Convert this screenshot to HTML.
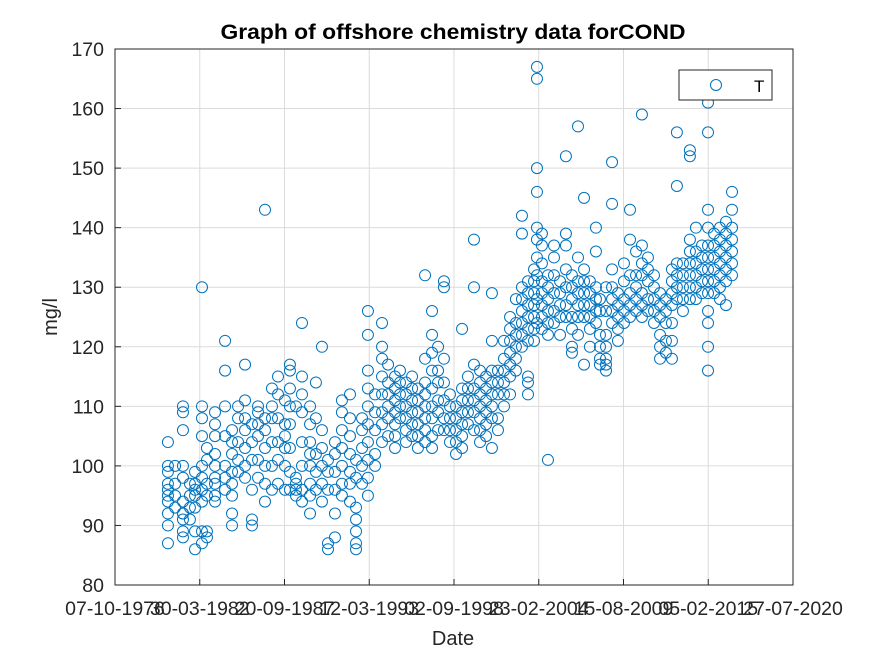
<!DOCTYPE html>
<html><head><meta charset="utf-8"><style>
body{margin:0;background:#fff;}
svg text{font-family:"Liberation Sans",Arial,sans-serif;}
</style></head><body>
<svg id="chart" width="875" height="656" xmlns="http://www.w3.org/2000/svg">
<rect x="0" y="0" width="875" height="656" fill="#fff"/>
<g id="grid"></g>
<g id="marks"></g>
<rect x="115" y="49" width="678" height="536" fill="none" stroke="#262626" stroke-width="1"/>
<g id="axes"></g>
<text x="453" y="39" text-anchor="middle" font-size="21.5" font-weight="bold" fill="#000" textLength="465" lengthAdjust="spacingAndGlyphs">Graph of offshore chemistry data forCOND</text>
<text transform="translate(57,317) rotate(-90)" text-anchor="middle" font-size="20" fill="#262626">mg/l</text>
<text x="453" y="645" text-anchor="middle" font-size="20" fill="#262626">Date</text>
<g>
<rect x="679" y="70" width="93" height="30" fill="#fff" stroke="#262626" stroke-width="1"/>
<circle cx="716" cy="85" r="5.5" fill="none" stroke="#0072BD" stroke-width="1"/>
<text x="754" y="92" font-size="17" fill="#000">T</text>
</g>
</svg>
<script>
const dates = [1980.19,1980.65,1981.16,1981.61,1981.94,1982.39,1982.71,1983.23,1983.88,1984.33,1984.72,1985.17,1985.62,1986.01,1986.46,1986.91,1987.30,1987.75,1988.07,1988.46,1988.85,1989.37,1989.75,1990.14,1990.53,1990.98,1991.43,1991.95,1992.34,1992.73,1993.11,1993.57,1994.02,1994.41,1994.86,1995.18,1995.57,1995.96,1996.34,1996.80,1997.25,1997.64,1998.02,1998.41,1998.80,1999.19,1999.57,1999.96,2000.35,2000.74,2001.12,2001.51,2001.90,2002.29,2002.67,2003.06,2003.45,2003.84,2004.03,2004.35,2004.74,2005.13,2005.52,2005.90,2006.29,2006.68,2007.07,2007.45,2007.84,2008.10,2008.49,2008.88,2009.26,2009.65,2010.04,2010.43,2010.81,2011.20,2011.59,2011.98,2012.36,2012.75,2013.07,2013.46,2013.91,2014.30,2014.69,2015.08,2015.47,2015.85,2016.24,2016.63];
const values = [
[99,97,96,92,90,87,104,95,100,94],[95,93,97,100],[110,109,106,100,98,94,92,91,89,88,92],[91,93,95,97],[96,99,97,95,93,89,86],
[130,110,108,105,100,98,96,94,89,87],[103,101,97,95,89,88],[109,107,105,102,100,97,95,98,94],[121,116,110,105,100,98,96],[106,104,102,99,97,95,92,90],
[110,108,104,101,99],[117,111,108,106,103,100,98],[107,104,101,96,91,90],[110,109,107,105,101,98],[143,108,106,103,100,97,94],
[113,110,108,104,100,96],[115,112,108,104,101,97],[111,107,105,103,100,96],[117,116,113,110,107,103,99,96],[110,98,97,96,95],
[124,115,112,109,104,100,96,94],[110,107,104,102,100,97,95,92],[114,108,102,99,96],[120,106,103,100,97,94],[101,99,96,87,86],
[104,102,99,96,92,88],[111,109,106,103,100,97,95],[112,108,105,102,99,97,94],[101,98,93,91,89,87,86],[108,106,103,100,97],
[126,122,116,113,110,107,104,101,98,95],[112,109,106,102,100],[124,120,118,115,112,109,107,104],[117,114,112,110,108,105],[115,113,111,109,107,105,103],
[116,114,112,110,108],[114,112,110,108,106,104],[115,113,111,109,107,105],[113,111,109,107,105,103],[132,118,114,112,110,108,106,104],
[126,122,119,116,113,110,108,105,103],[120,116,114,111,109,106],[131,130,118,114,111,108,106],[112,110,108,106,104],[110,108,106,104,102],
[123,113,111,109,107,105,103],[115,113,111,109,107],[138,130,117,113,111,109,106],[116,114,112,110,108,106,104],[115,113,111,109,107,105],
[129,121,116,114,112,110,108,103],[116,114,112,108,106],[121,118,116,114,112,110],[125,123,121,119,117,115,112],[128,124,122,120,118,116],
[142,139,130,128,126,124,122,120],[131,129,127,125,123,121,115,114,112],[133,131,129,127,125,123,121],[167,165,150,146,140,138,135,132,128,124],[139,137,134,131,129,127,125,123],
[132,130,128,126,124,122,101],[137,135,132,129,126,124],[131,129,127,125,122],[152,139,137,133,130,127,125],[132,130,128,125,123,120,119],
[157,135,131,129,127,125,122],[145,133,131,129,127,125,117],[131,129,127,125,123,120],[140,136,130,128,126,124],[128,126,122,120,118,117],
[130,126,122,120,118,117,116],[151,144,133,130,128,126,124],[129,127,125,123,121],[134,131,128,126,124],[143,138,132,129,127,125],
[136,132,130,128,126],[159,137,134,132,129,127,125],[135,133,131,128,126],[132,130,128,126,124],[129,127,125,122,120,118],
[128,126,124,121,119],[133,131,129,127,124,121,118],[156,147,134,132,130,128],[134,132,130,128,126],[152,153,138,136,134,132,130,128],
[140,136,134,132,130,128],[137,135,133,131,129],[161,156,143,140,137,135,133,131,129,126,124,120,116],[139,137,135,133,131,129],[140,138,136,134,132,130,128],
[141,139,137,135,133,131,127],[146,143,140,138,136,134,132]
];
const xTickValues = [1976.77,1982.245,1987.72,1993.195,1998.67,2004.145,2009.62,2015.095,2020.57];
const xTickLabels = ["07-10-1976","30-03-1982","20-09-1987","12-03-1993","02-09-1998","23-02-2004","15-08-2009","05-02-2015","27-07-2020"];
const yTickValues = [80,90,100,110,120,130,140,150,160,170];

const NS="http://www.w3.org/2000/svg";
const X0=115,X1=793,Y0=585,Y1=49;
const xMin=1976.77,xMax=2020.57,yMin=80,yMax=170;
function xs(v){return X0+(v-xMin)/(xMax-xMin)*(X1-X0);}
function ys(v){return Y0-(v-yMin)/(yMax-yMin)*(Y0-Y1);}
function mk(tag,attrs){const e=document.createElementNS(NS,tag);for(const k in attrs)e.setAttribute(k,attrs[k]);return e;}
const grid=document.getElementById('grid'),axes=document.getElementById('axes'),marks=document.getElementById('marks');
xTickValues.forEach((v,i)=>{
  const x=xs(v);
  const g=mk('line',{x1:x,x2:x,y1:Y1,y2:Y0,stroke:'#dcdcdc','stroke-width':1});
  
  
  grid.appendChild(g);
  const t=mk('line',{x1:x,x2:x,y1:Y0,y2:Y0-6,stroke:'#262626','stroke-width':1});
  
  
  axes.appendChild(t);
  const l=mk('text',{x:x,y:615,'text-anchor':'middle','font-size':19.5,fill:'#262626'});
  l.textContent=xTickLabels[i];
  
  
  axes.appendChild(l);
});
yTickValues.forEach(v=>{
  const y=ys(v);
  const g=mk('line',{x1:X0,x2:X1,y1:y,y2:y,stroke:'#dcdcdc','stroke-width':1});
  
  
  grid.appendChild(g);
  const t=mk('line',{x1:X0,x2:X0+6,y1:y,y2:y,stroke:'#262626','stroke-width':1});
  
  
  axes.appendChild(t);
  const l=mk('text',{x:104,y:y+7,'text-anchor':'end','font-size':19.5,fill:'#262626'});
  l.textContent=String(v);
  
  
  axes.appendChild(l);
});
dates.forEach((d,i)=>{
  values[i].forEach(v=>{
    const c=mk('circle',{cx:xs(d),cy:ys(v),r:5.5,fill:'none',stroke:'#0072BD','stroke-width':1});
    
    
    marks.appendChild(c);
  });
});
</script>
</body></html>
